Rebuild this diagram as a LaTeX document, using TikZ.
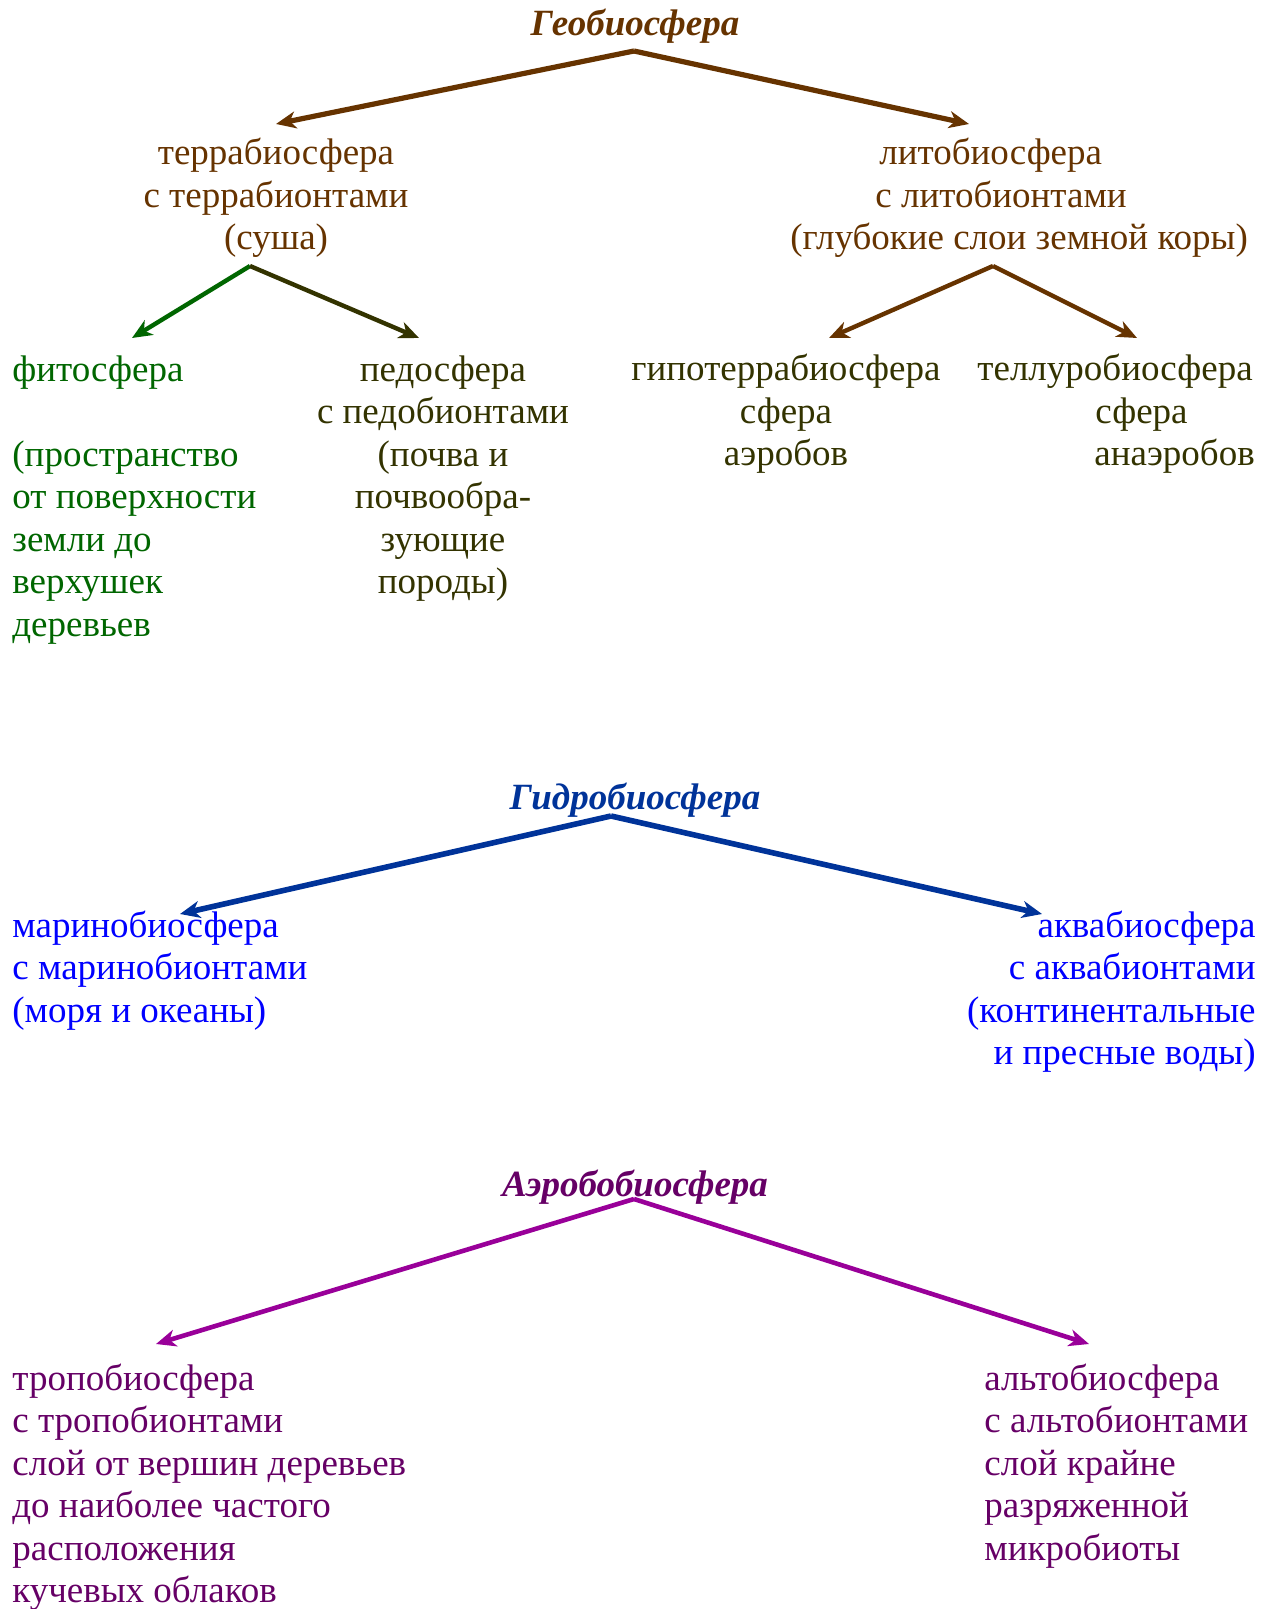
\documentclass[tikz,border=0pt]{standalone}
\usepackage{fontspec}
\setmainfont{Liberation Serif}
\usetikzlibrary{arrows.meta}

\definecolor{geobrown}{RGB}{102,51,0}
\definecolor{phytogreen}{RGB}{0,102,0}
\definecolor{soilolive}{RGB}{51,51,0}
\definecolor{hydroblue}{RGB}{0,51,153}
\definecolor{waterblue}{RGB}{0,0,255}
\definecolor{aerotext}{RGB}{102,0,102}
\definecolor{aeroline}{RGB}{153,0,153}

\begin{document}
\begin{tikzpicture}[
    x=0.5pt, y=-0.5pt,
    font=\fontsize{18.5}{21.25}\selectfont,
    txt/.style={inner sep=0pt, align=left},
    ctxt/.style={inner sep=0pt, align=center},
    rtxt/.style={inner sep=0pt, align=right},
    head/.style={inner sep=0pt, font=\fontsize{18.5}{21.25}\selectfont\bfseries\itshape},
    link/.style={-{Stealth[length=10pt,width=8.5pt,inset=3pt]}, line width=2.6pt},
    sublink/.style={link, line width=2.2pt}
]
\useasboundingbox (0,0) rectangle (1275,1609);

% ------------------------
% Geobiosphere
% ------------------------
\node[head, text=geobrown, anchor=base] (geo) at (635,36) {Геобиосфера};
\coordinate (geoTop) at (634,51);
\coordinate (geoL) at (276,124);
\coordinate (geoR) at (969,124);

% (base of a multi-line node = last line)
\node[ctxt, text=geobrown, anchor=base] (terra) at (276,250)
{террабиосфера\\с террабионтами\\(суша)};
\node[txt, text=geobrown, anchor=base west] (litho) at (790,250)
{\hspace*{44.5pt}литобиосфера\\\hspace*{42.5pt}с литобионтами\\(глубокие слои земной коры)};

\draw[link, geobrown] (geoTop) -- (geoL);
\draw[link, geobrown] (geoTop) -- (geoR);

% terrabiosphere branch
\coordinate (terraTop) at (250,266);
\coordinate (terraL) at (132,338);
\coordinate (terraR) at (419,338);
\draw[sublink, phytogreen] (terraTop) -- (terraL);
\draw[sublink, soilolive] (terraTop) -- (terraR);

\node[txt, text=phytogreen, anchor=base west] (phyto) at (12,636)
{фитосфера\\[21.25pt](пространство\\от поверхности\\земли до\\верхушек\\деревьев};
\node[ctxt, text=soilolive, anchor=base] (pedo) at (443,593.5)
{педосфера\\с педобионтами\\(почва и\\почвообра-\\зующие\\породы)};

% lithobiosphere branch
\coordinate (lithoTop) at (993,266);
\coordinate (lithoL) at (829,338);
\coordinate (lithoR) at (1137,338);
\draw[sublink, geobrown] (lithoTop) -- (lithoL);
\draw[sublink, geobrown] (lithoTop) -- (lithoR);

\node[ctxt, text=soilolive, anchor=base] (hypo) at (786,466)
{гипотеррабиосфера\\сфера\\аэробов};
\node[txt, text=soilolive, anchor=base west] (telluro) at (977,466)
{теллуробиосфера\\\hspace*{59pt}сфера\\\hspace*{58.5pt}анаэробов};

% ------------------------
% Hydrobiosphere
% ------------------------
\node[head, text=hydroblue, anchor=base] (hydro) at (635,809) {Гидробиосфера};
\coordinate (hydroTop) at (611,816);
\coordinate (hydroL) at (180,914);
\coordinate (hydroR) at (1042,914);
\draw[link, hydroblue, line width=2.8pt] (hydroTop) -- (hydroL);
\draw[link, hydroblue, line width=2.8pt] (hydroTop) -- (hydroR);

\node[txt, text=waterblue, anchor=base west] (marino) at (12,1022)
{маринобиосфера\\с маринобионтами\\(моря и океаны)};
\node[rtxt, text=waterblue, anchor=base east] (aqua) at (1256,1064.5)
{аквабиосфера\\с аквабионтами\\(континентальные\\и пресные воды)};

% ------------------------
% Aerobiosphere
% ------------------------
\node[head, text=aerotext, anchor=base] (aero) at (635,1196) {Аэробобиосфера};
\coordinate (aeroTop) at (634,1199);
\coordinate (aeroL) at (156,1344);
\coordinate (aeroR) at (1089,1344);
\draw[link, aeroline, line width=2.3pt] (aeroTop) -- (aeroL);
\draw[link, aeroline, line width=2.3pt] (aeroTop) -- (aeroR);

\node[txt, text=aerotext, anchor=base west] (tropo) at (12,1602.5)
{тропобиосфера\\с тропобионтами\\слой от вершин деревьев\\до наиболее частого\\расположения\\кучевых облаков};
\node[txt, text=aerotext, anchor=base west] (alto) at (984,1560)
{альтобиосфера\\с альтобионтами\\слой крайне\\разряженной\\микробиоты};

\end{tikzpicture}
\end{document}
